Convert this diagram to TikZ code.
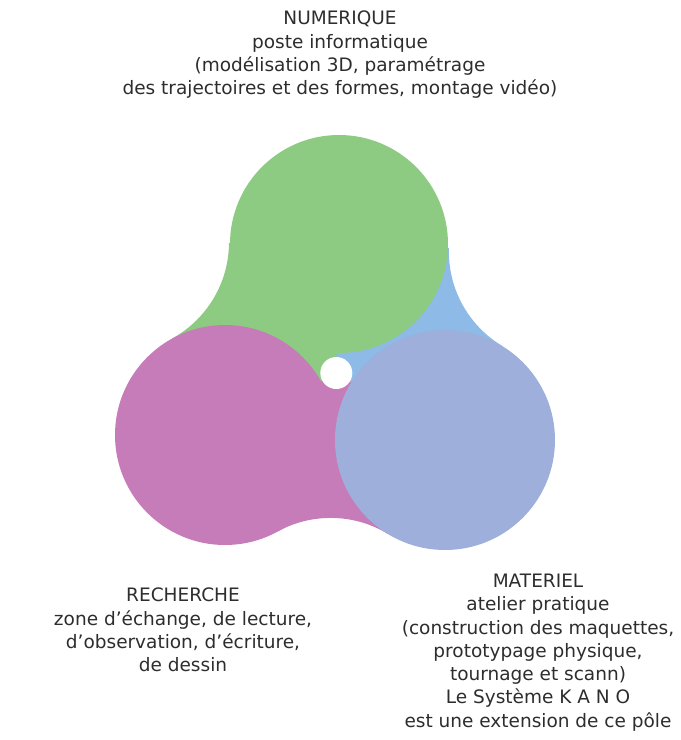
\documentclass[tikz,border=0pt]{standalone}
\usepackage{fontspec}
\setmainfont{DejaVu Sans}
\definecolor{numgreen}{RGB}{141,203,130}
\definecolor{rechpink}{RGB}{198,124,184}
\definecolor{matblue}{RGB}{157,175,218}
\definecolor{neckblue}{RGB}{141,186,230}
\definecolor{poletext}{RGB}{45,45,45}
\tikzset{every picture/.style={line width=0.75pt}}

\begin{document}
\begin{tikzpicture}[x=1pt, y=-1pt,
    poletitle/.style={align=center, text=poletext, inner sep=0pt,
        font=\fontsize{18.5}{23.3}\selectfont}]
    \useasboundingbox (0,0) rectangle (681,740);
    % centres of the three poles and of the gap
    \coordinate (num) at (339,244);
    \coordinate (rech) at (225,435);
    \coordinate (mat) at (445,440);
    \coordinate (mid) at (336.3,373);
    % centres of the fillet circles
    \coordinate (fnr) at (119.0,242.2);
    \coordinate (fnm) at (558.9,251.7);
    \coordinate (frm) at (330.7,627.9);
    % necks between the poles
    \fill[numgreen] (num) -- (rech) -- (mat) -- cycle;
    \begin{scope}
        \clip (mid) -- (num) -- (fnr) -- (rech) -- cycle;
        \fill[numgreen, even odd rule] (0,0) rectangle (681,740) (fnr) circle (110pt);
    \end{scope}
    \begin{scope}
        \clip (mid) -- (rech) -- (frm) -- (mat) -- cycle;
        \fill[rechpink, even odd rule] (0,0) rectangle (681,740) (frm) circle (110pt);
    \end{scope}
    \begin{scope}
        \clip (mid) -- (num) -- (fnm) -- (mat) -- cycle;
        \fill[neckblue, even odd rule] (0,0) rectangle (681,740) (fnm) circle (110pt);
    \end{scope}
    % the poles
    \fill[rechpink] (rech) circle (110pt);
    \fill[matblue] (mat) circle (110pt);
    \fill[numgreen] (num) circle (109pt);
    \fill[white] (mid) circle (16pt);
    % texts
    \node[poletitle] (numtxt) at (340,55) {NUMERIQUE\\poste informatique\\(modélisation 3D, paramétrage\\des trajectoires et des formes, montage vidéo)};
    \node[poletitle] (rechtxt) at (183,630) {RECHERCHE\\zone d’échange, de lecture,\\d’observation, d’écriture,\\de dessin};
    \node[poletitle] (mattxt) at (538,652.5) {MATERIEL\\atelier pratique\\(construction des maquettes,\\prototypage physique,\\tournage et scann)\\Le Système K A N O\\est une extension de ce pôle};
\end{tikzpicture}
\end{document}
